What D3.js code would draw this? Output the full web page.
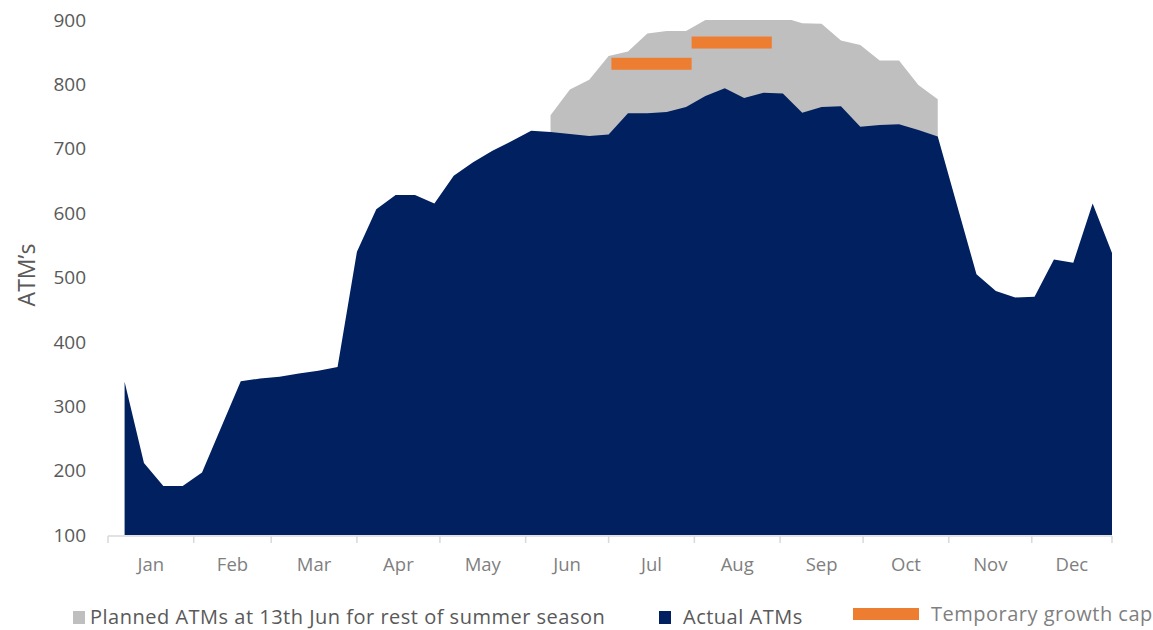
<!DOCTYPE html>
<meta charset="utf-8">
<style>
body { margin: 0; background: #fff; }
svg { display: block; font-family: "Open Sans", "Noto Sans", sans-serif; }
.ytick { font-size: 19px; fill: #595959; }
.month { font-size: 18.5px; fill: #7f7f7f; }
.legend text { font-size: 20px; letter-spacing: 0.5px; fill: #595959; }
</style>
<svg width="1153" height="630"></svg>
<script src="https://d3js.org/d3.v7.min.js"></script>
<script>

// weekly counts, first week ending 7 Jan
var firstWeek = new Date(2018, 0, 7);
var actual = [338, 212, 176, 176, 197, 268, 339, 343, 346, 351, 355, 361, 540,
  606, 628, 628, 615, 658, 679, 697, 712, 728, 726, 723, 720, 722, 755, 755,
  757, 765, 782, 794, 779, 787, 786, 756, 765, 766, 734, 737, 738, 729, 719,
  612, 505, 479, 469, 470, 528, 523, 615, 538];

// plan made on 13th Jun, weeks 22..42
var plannedStart = 22;
var planned = [752, 792, 807, 844, 851, 879, 883, 883, 900, 912, 915, 910, 904,
  895, 894, 868, 861, 837, 837, 799, 777];

var capFrom = [new Date(2018, 6, 2), new Date(2018, 6, 31)];
var capTo = [new Date(2018, 6, 31), new Date(2018, 7, 29)];
var capValue = [832, 865];

var yTicks = [100, 200, 300, 400, 500, 600, 700, 800, 900];
var monthNames = ["Jan", "Feb", "Mar", "Apr", "May", "Jun", "Jul", "Aug", "Sep", "Oct", "Nov", "Dec"];

var svg = d3.select("svg"),
    margin = {top: 20, right: 41, bottom: 95, left: 108},
    width = +svg.attr("width"),
    height = +svg.attr("height");

var x = d3.scaleTime()
    .domain([new Date(2018, 0, 1), new Date(2018, 11, 30)])
    .range([margin.left, width - margin.right]);

var y = d3.scaleLinear()
    .domain([100, 900])
    .range([height - margin.bottom, margin.top]);

var actualData = actual.map(function(v, i) {
  return {date: d3.timeDay.offset(firstWeek, 7 * i), value: v};
});
var plannedData = planned.map(function(v, i) {
  return {date: d3.timeDay.offset(firstWeek, 7 * (i + plannedStart)), value: v};
});

svg.append("clipPath")
    .attr("id", "plot")
  .append("rect")
    .attr("x", margin.left)
    .attr("y", y(900))
    .attr("width", width - margin.right - margin.left)
    .attr("height", y(100) - y(900));

var area = d3.area()
    .x(function(d) { return x(d.date); })
    .y0(y(100))
    .y1(function(d) { return y(d.value); });

var plot = svg.append("g").attr("clip-path", "url(#plot)");

plot.append("path")
    .datum(plannedData)
    .attr("fill", "#bfbfbf")
    .attr("d", area);

plot.append("path")
    .datum(actualData)
    .attr("fill", "#002060")
    .attr("d", area);

plot.selectAll(".cap")
    .data(capValue)
  .enter().append("rect")
    .attr("class", "cap")
    .attr("fill", "#ed7d31")
    .attr("x", function(d, i) { return x(capFrom[i]); })
    .attr("width", function(d, i) { return x(capTo[i]) - x(capFrom[i]); })
    .attr("y", function(d) { return y(d) - 6; })
    .attr("height", 12);

// x axis: month boundaries with labels between them
var bounds = monthNames.map(function(m, i) { return new Date(2018, i, 1); });
bounds.push(x.domain()[1]);
var base = y(100) + 1;

var xAxis = svg.append("g");
xAxis.append("line")
    .attr("x1", x.range()[0]).attr("x2", x.range()[1])
    .attr("y1", base).attr("y2", base)
    .attr("stroke", "#d9d9d9").attr("stroke-width", 1.5);
xAxis.selectAll(".tick")
    .data(bounds)
  .enter().append("line")
    .attr("x1", function(d) { return x(d); })
    .attr("x2", function(d) { return x(d); })
    .attr("y1", base).attr("y2", base + 7)
    .attr("stroke", "#d9d9d9").attr("stroke-width", 1.5);
xAxis.selectAll(".month")
    .data(monthNames)
  .enter().append("text")
    .attr("class", "month")
    .attr("text-anchor", "middle")
    .attr("x", function(d, i) { return (x(bounds[i]) + x(bounds[i + 1])) / 2; })
    .attr("y", base + 35)
    .text(function(d) { return d; });

// y axis: labels only
svg.append("g").selectAll("text")
    .data(yTicks)
  .enter().append("text")
    .attr("class", "ytick")
    .attr("text-anchor", "end")
    .attr("x", 86)
    .attr("y", function(d) { return y(d); })
    .attr("dy", "0.35em")
    .text(function(d) { return d; });

svg.append("text")
    .attr("transform", "translate(35,275) rotate(-90)")
    .attr("text-anchor", "middle")
    .attr("font-size", 23)
    .attr("fill", "#595959")
    .text("ATM’s");

// legend
var legend = svg.append("g").attr("class", "legend");
legend.append("rect").attr("x", 73).attr("y", 611).attr("width", 12).attr("height", 13).attr("fill", "#bfbfbf");
legend.append("text").attr("x", 90).attr("y", 624).text("Planned ATMs at 13th Jun for rest of summer season");
legend.append("rect").attr("x", 659).attr("y", 611).attr("width", 12).attr("height", 13).attr("fill", "#002060");
legend.append("text").attr("x", 683).attr("y", 624).text("Actual ATMs");
legend.append("rect").attr("x", 853).attr("y", 608).attr("width", 66).attr("height", 12).attr("fill", "#ed7d31");
legend.append("text").attr("x", 931).attr("y", 621).style("fill", "#7f7f7f").text("Temporary growth cap");

</script>
</html>
